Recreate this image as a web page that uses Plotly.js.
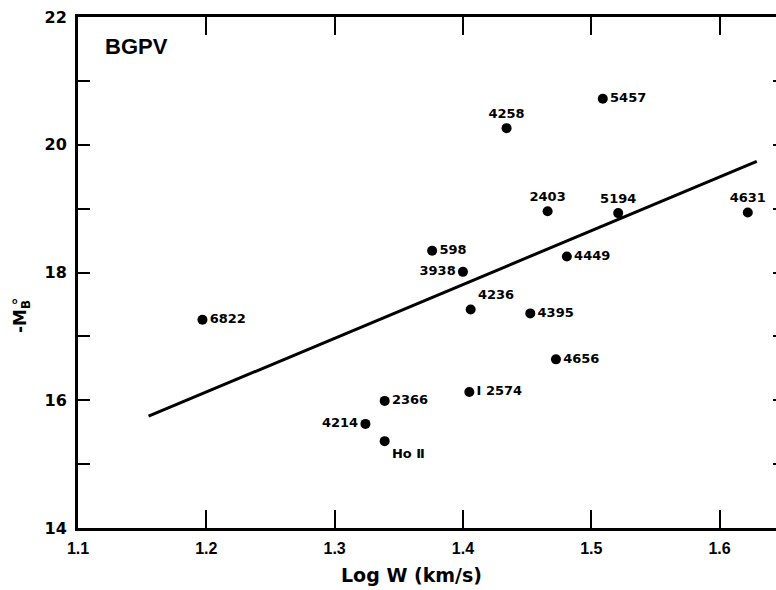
<!DOCTYPE html>
<html>
<head>
<meta charset="utf-8">
<script src="https://cdn.plot.ly/plotly-3.0.1.min.js"></script>
<style>
html,body{margin:0;padding:0;overflow:hidden;background:#fff;}
#chart{width:800px;height:590px;}
</style>
</head>
<body>
<div id="chart"></div>
<script>
// Galaxy data: log line width vs absolute magnitude
const galaxies = ['6822','4214','2366','Ho Ⅱ','I 2574','598','3938','4236','4395','4449','4656','2403','5194','4631','5457','4258'];
const logW =     [1.197, 1.324, 1.339, 1.339, 1.405, 1.376, 1.400, 1.406, 1.4525, 1.481, 1.4725, 1.466, 1.521, 1.622, 1.509, 1.434];
const negMB =    [17.26, 15.63, 15.99, 15.36, 16.13, 18.34, 18.01, 17.42, 17.36, 18.25, 16.64, 18.96, 18.93, 18.94, 20.72, 20.26];
const labelPos = ['middle right','middle left','middle right','bottom right','middle right','middle right','middle left','top right','middle right','middle right','middle right','top center','top center','top center','middle right','top center'];

// Fitted relation endpoints
const fitX = [1.155, 1.629];
const fitY = [15.75, 19.74];

const xTicks = [1.1, 1.2, 1.3, 1.4, 1.5, 1.6];
const xTickText = ['1.1','1.2','1.3','1.4','1.5','1.6'];
const yTicks = [14, 15, 16, 17, 18, 19, 20, 21, 22];
const yTickText = ['14','','16','','18','','20','','22'];

const font = 'Liberation Sans, Arial, Helvetica, sans-serif';
const wide = 'DejaVu Sans, Verdana, sans-serif';

const traces = [
  {
    x: fitX, y: fitY, mode: 'lines', type: 'scatter',
    line: {color: '#000', width: 3}, hoverinfo: 'skip', showlegend: false
  },
  {
    x: logW, y: negMB, mode: 'markers+text', type: 'scatter',
    text: galaxies.map(s => '<b>' + s + '</b>'),
    textposition: labelPos,
    textfont: {family: wide, size: 13, color: '#000'},
    marker: {color: '#000', size: 10},
    showlegend: false
  }
];

const layout = {
  width: 800, height: 590,
  margin: {l: 78, r: 15, t: 17, b: 62},
  paper_bgcolor: '#fff', plot_bgcolor: '#fff',
  font: {family: font, color: '#000'},
  xaxis: {
    range: [1.1, 1.651], tickmode: 'array', tickvals: xTicks, ticktext: xTickText,
    ticks: 'inside', ticklen: 18, tickwidth: 2, tickcolor: '#000',
    showline: true, linewidth: 3, linecolor: '#000', mirror: 'ticks',
    showgrid: false, zeroline: false,
    tickfont: {family: font, size: 16, weight: 'bold'},
    ticklabelstandoff: 4
  },
  yaxis: {
    range: [14, 22], tickmode: 'array', tickvals: yTicks, ticktext: yTickText,
    ticks: 'inside', ticklen: 12, tickwidth: 2, tickcolor: '#000',
    showline: true, linewidth: 3, linecolor: '#000', mirror: 'ticks',
    showgrid: false, zeroline: false,
    tickfont: {family: wide, size: 16, weight: 'bold'},
    ticklabelstandoff: 5
  },
  annotations: [
    {
      text: '<b>BGPV</b>', xref: 'paper', yref: 'paper', x: 0.035, y: 0.97,
      xanchor: 'left', yanchor: 'top', showarrow: false,
      font: {family: font, size: 22, color: '#000'}
    },
    {
      text: '<b>Log W (km/s)</b>', xref: 'paper', yref: 'paper',
      x: 0.4724, y: -0.1174, xanchor: 'center', yanchor: 'bottom', showarrow: false,
      font: {family: wide, size: 19, color: '#000'}
    },
    {
      text: '<b>-M<sub>B</sub></b>', xref: 'paper', yref: 'paper',
      x: -0.0792, y: 0.413, xanchor: 'center', yanchor: 'middle', textangle: -90,
      showarrow: false, font: {family: wide, size: 17, color: '#000'}
    },
    {
      text: '<b>o</b>', xref: 'paper', yref: 'paper',
      x: -0.0892, y: 0.445, xanchor: 'center', yanchor: 'middle',
      showarrow: false, font: {family: font, size: 9, color: '#000'}
    }
  ]
};

Plotly.newPlot('chart', traces, layout, {displayModeBar: false, staticPlot: true});
</script>
</body>
</html>
